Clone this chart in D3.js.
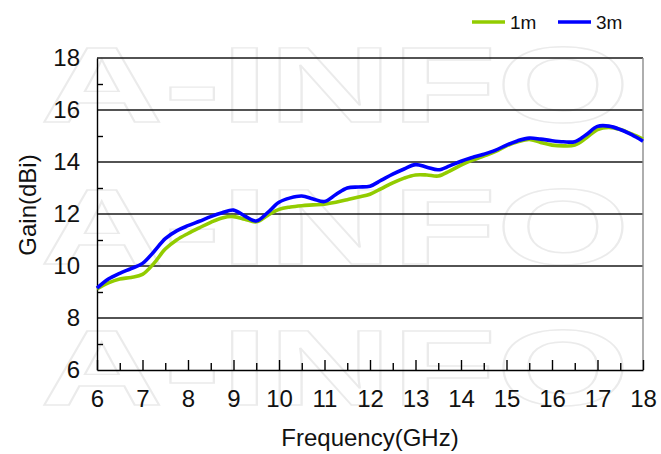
<!DOCTYPE html>
<html>
<head>
<meta charset="utf-8">
<script src="https://cdn.jsdelivr.net/npm/d3@7"></script>
<style>
  body { margin: 0; background: #fff; }
  svg text { font-family: Arial, "Liberation Sans", sans-serif; }
</style>
</head>
<body>
<div class="canvas"></div>
<script>
// frequency (GHz)
const freq = [6, 6.25, 6.5, 6.75, 7, 7.25, 7.5, 7.75, 8, 8.25, 8.5, 8.75, 9, 9.25, 9.5, 9.75,
  10, 10.25, 10.5, 10.75, 11, 11.25, 11.5, 11.75, 12, 12.25, 12.5, 12.75, 13, 13.25, 13.5, 13.75,
  14, 14.25, 14.5, 14.75, 15, 15.25, 15.5, 15.75, 16, 16.25, 16.5, 16.75, 17, 17.25, 17.5, 17.75, 18];
// gain 1m
const gain1m = [9.12, 9.35, 9.5, 9.56, 9.68, 10.1, 10.65, 11.0, 11.25, 11.47, 11.68, 11.85, 11.9, 11.8, 11.7, 11.95,
  12.18, 12.27, 12.32, 12.35, 12.38, 12.45, 12.55, 12.65, 12.76, 12.98, 13.2, 13.38, 13.5, 13.5, 13.46, 13.65,
  13.88, 14.07, 14.23, 14.4, 14.62, 14.78, 14.87, 14.75, 14.65, 14.62, 14.65, 14.92, 15.25, 15.33, 15.25, 15.08, 14.88];
// gain 3m
const gain3m = [9.15, 9.5, 9.72, 9.9, 10.1, 10.55, 11.05, 11.35, 11.55, 11.72, 11.9, 12.05, 12.15, 11.92, 11.73, 12.05,
  12.45, 12.62, 12.69, 12.58, 12.48, 12.75, 13.0, 13.04, 13.07, 13.3, 13.53, 13.73, 13.9, 13.8, 13.7, 13.85,
  14.03, 14.17, 14.3, 14.45, 14.65, 14.82, 14.92, 14.88, 14.82, 14.78, 14.78, 15.05, 15.37, 15.38, 15.25, 15.05, 14.8];

const xTicks = d3.range(6, 19, 1);
const xMinor = d3.range(6.5, 18, 1);
const yTicks = d3.range(6, 19, 2);
const yMinor = d3.range(7, 18, 2);

const series = [
  { name: '1m', values: gain1m, color: '#92cc00' },
  { name: '3m', values: gain3m, color: '#0000ff' }
];

const W = 661, H = 454;
const m = { t: 58, r: 18, b: 84, l: 97 };

const svg = d3.select('.canvas').append('svg')
  .attr('width', W)
  .attr('height', H);

//watermark (stretched outline letters)
const wm = svg.append('g').attr('class', 'watermark');
[122, 264, 405].forEach(yy => {
  wm.append('text')
    .attr('transform', `translate(40,${yy}) scale(1.6,1)`)
    .style('font-size', '107px')
    .style('font-weight', 'bold')
    .style('fill', 'none')
    .style('stroke', '#ebebeb')
    .style('stroke-width', 1.4)
    .text('A-INFO');
});

const x = d3.scaleLinear().domain([6, 18]).range([m.l, W - m.r]);
const y = d3.scaleLinear().domain([6, 18]).range([H - m.b, m.t]);

//grid
svg.append('g')
  .selectAll('line')
  .data(yTicks.slice(1))
  .enter()
  .append('line')
  .attr('x1', x(6)).attr('x2', x(18))
  .attr('y1', d => y(d)).attr('y2', d => y(d))
  .style('stroke', '#1a1a1a')
  .style('stroke-width', 1.4);

//right border
svg.append('line')
  .attr('x1', x(18)).attr('x2', x(18))
  .attr('y1', y(6)).attr('y2', y(18))
  .style('stroke', '#8c8c8c')
  .style('stroke-width', 1.4);

//y axis
const yAxis = svg.append('g')
  .attr('transform', `translate(${x(6)},0)`)
  .call(d3.axisLeft(y).tickValues(yTicks).tickSize(0).tickPadding(17));
yAxis.select('.domain').style('stroke', '#000').style('stroke-width', 1.4);
yAxis.selectAll('text').style('font-size', '24px').style('fill', '#111');

svg.append('g')
  .attr('transform', `translate(${x(6)},0)`)
  .call(d3.axisRight(y).tickValues(yMinor).tickSize(6).tickFormat(''))
  .call(g => g.select('.domain').remove())
  .selectAll('line').style('stroke', '#000').style('stroke-width', 1.4);

//x axis
const xAxis = svg.append('g')
  .attr('transform', `translate(0,${y(6)})`)
  .call(d3.axisBottom(x).tickValues(xTicks).tickSizeInner(-10).tickSizeOuter(0).tickPadding(20).tickFormat(d3.format('d')));
xAxis.select('.domain').style('stroke', '#000').style('stroke-width', 1.4);
xAxis.selectAll('line').style('stroke', '#000').style('stroke-width', 1.4);
xAxis.selectAll('text').style('font-size', '24px').style('fill', '#111');

svg.append('g')
  .attr('transform', `translate(0,${y(6)})`)
  .call(d3.axisBottom(x).tickValues(xMinor).tickSize(-7).tickFormat(''))
  .call(g => g.select('.domain').remove())
  .selectAll('line').style('stroke', '#000').style('stroke-width', 1.4);

//axis titles
svg.append('text')
  .attr('x', (x(6) + x(18)) / 2)
  .attr('y', 446)
  .style('text-anchor', 'middle')
  .style('font-size', '24px')
  .style('fill', '#111')
  .text('Frequency(GHz)');

svg.append('text')
  .attr('transform', `translate(36,205) rotate(-90)`)
  .style('text-anchor', 'middle')
  .style('font-size', '24px')
  .style('fill', '#111')
  .text('Gain(dBi)');

//lines
const line = d3.line()
  .x((d, i) => x(freq[i]))
  .y(d => y(d))
  .curve(d3.curveCatmullRom);

svg.append('g')
  .selectAll('path')
  .data(series)
  .enter()
  .append('path')
  .attr('d', d => line(d.values))
  .style('fill', 'none')
  .style('stroke', d => d.color)
  .style('stroke-width', 3.6)
  .style('stroke-linejoin', 'round');

//legend
const legend = svg.append('g')
  .selectAll('g')
  .data(series)
  .enter()
  .append('g')
  .attr('transform', (d, i) => `translate(${472 + i * 86},22)`);

legend.append('line')
  .attr('x1', 0).attr('x2', 33)
  .style('stroke', d => d.color)
  .style('stroke-width', 3.6);

legend.append('text')
  .attr('x', 38)
  .attr('y', 7)
  .style('font-size', '19px')
  .style('fill', '#111')
  .text(d => d.name);
</script>
</body>
</html>
